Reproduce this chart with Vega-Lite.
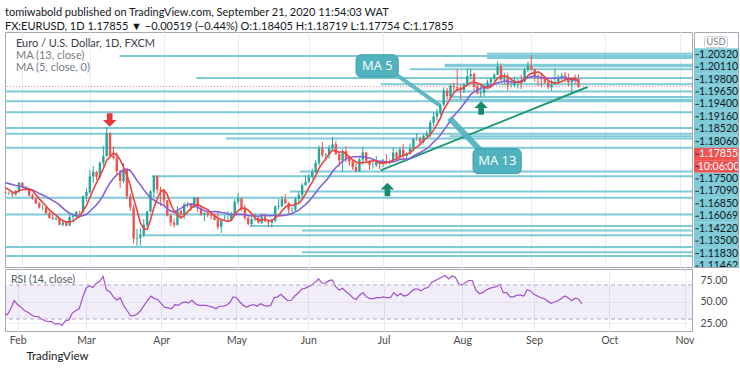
{
"$schema": "https://vega.github.io/schema/vega-lite/v6.json",
"padding": {"left": 4, "top": 6, "right": 5, "bottom": 0},
"background": "white",
"title": {"text": "tomiwabold published on TradingView.com, September 21, 2020 11:54:03 WAT", "subtitle": "FX:EURUSD, 1D  1.17855 ▼ −0.00519 (−0.44%)  O:1.18405  H:1.18719  L:1.17754  C:1.17855", "anchor": "start", "frame": "group", "font": "Lato", "subtitleFont": "Lato", "fontSize": 11, "subtitleFontSize": 11, "fontWeight": "normal", "color": "#131722", "subtitleColor": "#131722", "subtitlePadding": 3, "offset": 0},
"datasets": {
"bars": [
{"d":"2020-01-13","o":1.1120,"h":1.1143,"l":1.1113,"c":1.1135},
{"d":"2020-01-14","o":1.1135,"h":1.1147,"l":1.1118,"c":1.1128},
{"d":"2020-01-15","o":1.1128,"h":1.1154,"l":1.1120,"c":1.1150},
{"d":"2020-01-16","o":1.1150,"h":1.1170,"l":1.1128,"c":1.1136},
{"d":"2020-01-17","o":1.1136,"h":1.1140,"l":1.1086,"c":1.1092},
{"d":"2020-01-20","o":1.1092,"h":1.1102,"l":1.1084,"c":1.1095},
{"d":"2020-01-21","o":1.1095,"h":1.1113,"l":1.1076,"c":1.1085},
{"d":"2020-01-22","o":1.1085,"h":1.1100,"l":1.1077,"c":1.1093},
{"d":"2020-01-23","o":1.1093,"h":1.1096,"l":1.1036,"c":1.1055},
{"d":"2020-01-24","o":1.1055,"h":1.1066,"l":1.1020,"c":1.1025},
{"d":"2020-01-27","o":1.1025,"h":1.1033,"l":1.1010,"c":1.1020,"rsi":38},
{"d":"2020-01-28","o":1.1020,"h":1.1032,"l":1.1005,"c":1.1020,"rsi":37},
{"d":"2020-01-29","o":1.1020,"h":1.1022,"l":1.0991,"c":1.1008,"rsi":35},
{"d":"2020-01-30","o":1.1008,"h":1.1040,"l":1.1000,"c":1.1031,"rsi":42},
{"d":"2020-01-31","o":1.1031,"h":1.1096,"l":1.1020,"c":1.1093,"rsi":51.5},
{"d":"2020-02-03","o":1.1093,"h":1.1095,"l":1.1055,"c":1.1060,"rsi":47},
{"d":"2020-02-04","o":1.1060,"h":1.1068,"l":1.1036,"c":1.1045,"rsi":44},
{"d":"2020-02-05","o":1.1045,"h":1.1053,"l":1.0995,"c":1.1000,"rsi":40},
{"d":"2020-02-06","o":1.1000,"h":1.1015,"l":1.0970,"c":1.0980,"rsi":38},
{"d":"2020-02-07","o":1.0980,"h":1.0983,"l":1.0940,"c":1.0944,"rsi":35},
{"d":"2020-02-10","o":1.0944,"h":1.0955,"l":1.0906,"c":1.0914,"rsi":33},
{"d":"2020-02-11","o":1.0914,"h":1.0935,"l":1.0895,"c":1.0915,"rsi":33},
{"d":"2020-02-12","o":1.0915,"h":1.0922,"l":1.0867,"c":1.0873,"rsi":30},
{"d":"2020-02-13","o":1.0873,"h":1.0885,"l":1.0833,"c":1.0840,"rsi":28},
{"d":"2020-02-14","o":1.0840,"h":1.0863,"l":1.0827,"c":1.0830,"rsi":27},
{"d":"2020-02-17","o":1.0830,"h":1.0850,"l":1.0822,"c":1.0837,"rsi":27},
{"d":"2020-02-18","o":1.0837,"h":1.0840,"l":1.0787,"c":1.0790,"rsi":24},
{"d":"2020-02-19","o":1.0790,"h":1.0820,"l":1.0780,"c":1.0806,"rsi":25},
{"d":"2020-02-20","o":1.0806,"h":1.0813,"l":1.0778,"c":1.0784,"rsi":22.5},
{"d":"2020-02-21","o":1.0784,"h":1.0863,"l":1.0780,"c":1.0846,"rsi":28},
{"d":"2020-02-24","o":1.0846,"h":1.0870,"l":1.0810,"c":1.0852,"rsi":29},
{"d":"2020-02-25","o":1.0852,"h":1.0890,"l":1.0830,"c":1.0883,"rsi":37},
{"d":"2020-02-26","o":1.0883,"h":1.0891,"l":1.0855,"c":1.0882,"rsi":40},
{"d":"2020-02-27","o":1.0882,"h":1.1000,"l":1.0875,"c":1.0995,"rsi":42},
{"d":"2020-02-28","o":1.0995,"h":1.1053,"l":1.0955,"c":1.1026,"rsi":55},
{"d":"2020-03-02","o":1.1026,"h":1.1185,"l":1.1010,"c":1.1138,"rsi":66},
{"d":"2020-03-03","o":1.1138,"h":1.1213,"l":1.1090,"c":1.1172,"rsi":69},
{"d":"2020-03-04","o":1.1172,"h":1.1176,"l":1.1113,"c":1.1136,"rsi":67},
{"d":"2020-03-05","o":1.1136,"h":1.1245,"l":1.1120,"c":1.1236,"rsi":72},
{"d":"2020-03-06","o":1.1236,"h":1.1358,"l":1.1210,"c":1.1284,"rsi":74},
{"d":"2020-03-09","o":1.1284,"h":1.1495,"l":1.1280,"c":1.1450,"rsi":80},
{"d":"2020-03-10","o":1.1450,"h":1.1455,"l":1.1285,"c":1.1285,"rsi":64},
{"d":"2020-03-11","o":1.1285,"h":1.1355,"l":1.1260,"c":1.1270,"rsi":62},
{"d":"2020-03-12","o":1.1270,"h":1.1310,"l":1.1155,"c":1.1175,"rsi":56},
{"d":"2020-03-13","o":1.1175,"h":1.1185,"l":1.1055,"c":1.1105,"rsi":52},
{"d":"2020-03-16","o":1.1105,"h":1.1236,"l":1.1090,"c":1.1185,"rsi":55},
{"d":"2020-03-17","o":1.1185,"h":1.1200,"l":1.0975,"c":1.0995,"rsi":46},
{"d":"2020-03-18","o":1.0995,"h":1.1015,"l":1.0890,"c":1.0915,"rsi":40},
{"d":"2020-03-19","o":1.0915,"h":1.0935,"l":1.0655,"c":1.0690,"rsi":34},
{"d":"2020-03-20","o":1.0690,"h":1.0760,"l":1.0636,"c":1.0695,"rsi":34},
{"d":"2020-03-23","o":1.0695,"h":1.0765,"l":1.0640,"c":1.0720,"rsi":36},
{"d":"2020-03-24","o":1.0720,"h":1.0830,"l":1.0700,"c":1.0790,"rsi":40},
{"d":"2020-03-25","o":1.0790,"h":1.0890,"l":1.0770,"c":1.0885,"rsi":46},
{"d":"2020-03-26","o":1.0885,"h":1.1040,"l":1.0880,"c":1.1030,"rsi":52},
{"d":"2020-03-27","o":1.1030,"h":1.1147,"l":1.0990,"c":1.1140,"rsi":57},
{"d":"2020-03-30","o":1.1140,"h":1.1145,"l":1.1015,"c":1.1045,"rsi":54},
{"d":"2020-03-31","o":1.1045,"h":1.1065,"l":1.0925,"c":1.1030,"rsi":53},
{"d":"2020-04-01","o":1.1030,"h":1.1040,"l":1.0925,"c":1.0965,"rsi":48},
{"d":"2020-04-02","o":1.0965,"h":1.0970,"l":1.0850,"c":1.0855,"rsi":44},
{"d":"2020-04-03","o":1.0855,"h":1.0870,"l":1.0780,"c":1.0805,"rsi":43},
{"d":"2020-04-06","o":1.0805,"h":1.0835,"l":1.0770,"c":1.0790,"rsi":42},
{"d":"2020-04-07","o":1.0790,"h":1.0925,"l":1.0785,"c":1.0890,"rsi":47},
{"d":"2020-04-08","o":1.0890,"h":1.0895,"l":1.0830,"c":1.0860,"rsi":46},
{"d":"2020-04-09","o":1.0860,"h":1.0952,"l":1.0830,"c":1.0935,"rsi":49},
{"d":"2020-04-10","o":1.0935,"h":1.0955,"l":1.0915,"c":1.0940,"rsi":50},
{"d":"2020-04-13","o":1.0940,"h":1.0948,"l":1.0890,"c":1.0915,"rsi":49},
{"d":"2020-04-14","o":1.0915,"h":1.0990,"l":1.0910,"c":1.0985,"rsi":52},
{"d":"2020-04-15","o":1.0985,"h":1.0990,"l":1.0880,"c":1.0910,"rsi":48},
{"d":"2020-04-16","o":1.0910,"h":1.0925,"l":1.0855,"c":1.0865,"rsi":46},
{"d":"2020-04-17","o":1.0865,"h":1.0880,"l":1.0815,"c":1.0875,"rsi":46},
{"d":"2020-04-20","o":1.0875,"h":1.0890,"l":1.0845,"c":1.0860,"rsi":46},
{"d":"2020-04-21","o":1.0860,"h":1.0890,"l":1.0830,"c":1.0855,"rsi":45},
{"d":"2020-04-22","o":1.0855,"h":1.0870,"l":1.0820,"c":1.0825,"rsi":44},
{"d":"2020-04-23","o":1.0825,"h":1.0885,"l":1.0755,"c":1.0775,"rsi":42},
{"d":"2020-04-24","o":1.0775,"h":1.0830,"l":1.0730,"c":1.0820,"rsi":45},
{"d":"2020-04-27","o":1.0820,"h":1.0860,"l":1.0815,"c":1.0825,"rsi":45},
{"d":"2020-04-28","o":1.0825,"h":1.0890,"l":1.0810,"c":1.0825,"rsi":46},
{"d":"2020-04-29","o":1.0825,"h":1.0880,"l":1.0815,"c":1.0875,"rsi":49},
{"d":"2020-04-30","o":1.0875,"h":1.0975,"l":1.0855,"c":1.0955,"rsi":56},
{"d":"2020-05-01","o":1.0955,"h":1.1020,"l":1.0935,"c":1.0980,"rsi":55},
{"d":"2020-05-04","o":1.0980,"h":1.0985,"l":1.0890,"c":1.0905,"rsi":50},
{"d":"2020-05-05","o":1.0905,"h":1.0935,"l":1.0825,"c":1.0840,"rsi":46},
{"d":"2020-05-06","o":1.0840,"h":1.0850,"l":1.0785,"c":1.0795,"rsi":44},
{"d":"2020-05-07","o":1.0795,"h":1.0845,"l":1.0780,"c":1.0830,"rsi":46},
{"d":"2020-05-08","o":1.0830,"h":1.0875,"l":1.0815,"c":1.0840,"rsi":47},
{"d":"2020-05-11","o":1.0840,"h":1.0850,"l":1.0800,"c":1.0805,"rsi":45},
{"d":"2020-05-12","o":1.0805,"h":1.0875,"l":1.0795,"c":1.0850,"rsi":48},
{"d":"2020-05-13","o":1.0850,"h":1.0870,"l":1.0810,"c":1.0815,"rsi":46},
{"d":"2020-05-14","o":1.0815,"h":1.0820,"l":1.0775,"c":1.0805,"rsi":45},
{"d":"2020-05-15","o":1.0805,"h":1.0835,"l":1.0770,"c":1.0820,"rsi":46},
{"d":"2020-05-18","o":1.0820,"h":1.0930,"l":1.0805,"c":1.0920,"rsi":55},
{"d":"2020-05-19","o":1.0920,"h":1.0975,"l":1.0900,"c":1.0925,"rsi":56},
{"d":"2020-05-20","o":1.0925,"h":1.0995,"l":1.0915,"c":1.0975,"rsi":59},
{"d":"2020-05-21","o":1.0975,"h":1.1010,"l":1.0940,"c":1.0945,"rsi":55},
{"d":"2020-05-22","o":1.0945,"h":1.0955,"l":1.0870,"c":1.0900,"rsi":51.5},
{"d":"2020-05-25","o":1.0900,"h":1.0915,"l":1.0880,"c":1.0900,"rsi":52},
{"d":"2020-05-26","o":1.0900,"h":1.0990,"l":1.0885,"c":1.0975,"rsi":57},
{"d":"2020-05-27","o":1.0975,"h":1.1030,"l":1.0935,"c":1.1005,"rsi":60},
{"d":"2020-05-28","o":1.1005,"h":1.1090,"l":1.0975,"c":1.1075,"rsi":65},
{"d":"2020-05-29","o":1.1075,"h":1.1145,"l":1.1070,"c":1.1100,"rsi":66},
{"d":"2020-06-01","o":1.1100,"h":1.1155,"l":1.1090,"c":1.1135,"rsi":68},
{"d":"2020-06-02","o":1.1135,"h":1.1195,"l":1.1120,"c":1.1170,"rsi":70},
{"d":"2020-06-03","o":1.1170,"h":1.1255,"l":1.1165,"c":1.1235,"rsi":73},
{"d":"2020-06-04","o":1.1235,"h":1.1360,"l":1.1215,"c":1.1340,"rsi":77},
{"d":"2020-06-05","o":1.1340,"h":1.1385,"l":1.1275,"c":1.1290,"rsi":72},
{"d":"2020-06-08","o":1.1290,"h":1.1305,"l":1.1250,"c":1.1295,"rsi":72},
{"d":"2020-06-09","o":1.1295,"h":1.1365,"l":1.1265,"c":1.1340,"rsi":75},
{"d":"2020-06-10","o":1.1340,"h":1.1422,"l":1.1325,"c":1.1370,"rsi":76},
{"d":"2020-06-11","o":1.1370,"h":1.1395,"l":1.1290,"c":1.1300,"rsi":68},
{"d":"2020-06-12","o":1.1300,"h":1.1315,"l":1.1210,"c":1.1255,"rsi":64},
{"d":"2020-06-15","o":1.1255,"h":1.1335,"l":1.1170,"c":1.1320,"rsi":66},
{"d":"2020-06-16","o":1.1320,"h":1.1355,"l":1.1240,"c":1.1265,"rsi":62},
{"d":"2020-06-17","o":1.1265,"h":1.1285,"l":1.1215,"c":1.1245,"rsi":59},
{"d":"2020-06-18","o":1.1245,"h":1.1255,"l":1.1185,"c":1.1205,"rsi":55},
{"d":"2020-06-19","o":1.1205,"h":1.1230,"l":1.1170,"c":1.1175,"rsi":53},
{"d":"2020-06-22","o":1.1175,"h":1.1270,"l":1.1170,"c":1.1260,"rsi":58},
{"d":"2020-06-23","o":1.1260,"h":1.1350,"l":1.1225,"c":1.1310,"rsi":61},
{"d":"2020-06-24","o":1.1310,"h":1.1315,"l":1.1240,"c":1.1250,"rsi":56},
{"d":"2020-06-25","o":1.1250,"h":1.1255,"l":1.1185,"c":1.1220,"rsi":54},
{"d":"2020-06-26","o":1.1220,"h":1.1245,"l":1.1195,"c":1.1220,"rsi":54},
{"d":"2020-06-29","o":1.1220,"h":1.1285,"l":1.1205,"c":1.1245,"rsi":55},
{"d":"2020-06-30","o":1.1245,"h":1.1245,"l":1.1190,"c":1.1235,"rsi":55},
{"d":"2020-07-01","o":1.1235,"h":1.1265,"l":1.1205,"c":1.1250,"rsi":56},
{"d":"2020-07-02","o":1.1250,"h":1.1300,"l":1.1225,"c":1.1240,"rsi":55},
{"d":"2020-07-03","o":1.1240,"h":1.1260,"l":1.1225,"c":1.1245,"rsi":55},
{"d":"2020-07-06","o":1.1245,"h":1.1345,"l":1.1240,"c":1.1310,"rsi":61},
{"d":"2020-07-07","o":1.1310,"h":1.1320,"l":1.1255,"c":1.1275,"rsi":57},
{"d":"2020-07-08","o":1.1275,"h":1.1345,"l":1.1265,"c":1.1330,"rsi":60},
{"d":"2020-07-09","o":1.1330,"h":1.1370,"l":1.1270,"c":1.1285,"rsi":57},
{"d":"2020-07-10","o":1.1285,"h":1.1310,"l":1.1255,"c":1.1300,"rsi":58},
{"d":"2020-07-13","o":1.1300,"h":1.1375,"l":1.1295,"c":1.1340,"rsi":62},
{"d":"2020-07-14","o":1.1340,"h":1.1410,"l":1.1320,"c":1.1410,"rsi":65},
{"d":"2020-07-15","o":1.1410,"h":1.1450,"l":1.1395,"c":1.1410,"rsi":65},
{"d":"2020-07-16","o":1.1410,"h":1.1425,"l":1.1370,"c":1.1385,"rsi":63},
{"d":"2020-07-17","o":1.1385,"h":1.1440,"l":1.1375,"c":1.1430,"rsi":66},
{"d":"2020-07-20","o":1.1430,"h":1.1470,"l":1.1415,"c":1.1445,"rsi":67},
{"d":"2020-07-21","o":1.1445,"h":1.1545,"l":1.1420,"c":1.1525,"rsi":73},
{"d":"2020-07-22","o":1.1525,"h":1.1600,"l":1.1500,"c":1.1570,"rsi":75},
{"d":"2020-07-23","o":1.1570,"h":1.1625,"l":1.1540,"c":1.1595,"rsi":77},
{"d":"2020-07-24","o":1.1595,"h":1.1660,"l":1.1580,"c":1.1655,"rsi":79},
{"d":"2020-07-27","o":1.1655,"h":1.1780,"l":1.1645,"c":1.1755,"rsi":81},
{"d":"2020-07-28","o":1.1755,"h":1.1775,"l":1.1690,"c":1.1715,"rsi":77},
{"d":"2020-07-29","o":1.1715,"h":1.1805,"l":1.1700,"c":1.1790,"rsi":80.5},
{"d":"2020-07-30","o":1.1790,"h":1.1815,"l":1.1755,"c":1.1780,"rsi":79},
{"d":"2020-07-31","o":1.1780,"h":1.1909,"l":1.1760,"c":1.1775,"rsi":71},
{"d":"2020-08-03","o":1.1775,"h":1.1795,"l":1.1695,"c":1.1760,"rsi":70},
{"d":"2020-08-04","o":1.1760,"h":1.1810,"l":1.1740,"c":1.1800,"rsi":73},
{"d":"2020-08-05","o":1.1800,"h":1.1915,"l":1.1795,"c":1.1860,"rsi":75.5},
{"d":"2020-08-06","o":1.1860,"h":1.1915,"l":1.1835,"c":1.1875,"rsi":75},
{"d":"2020-08-07","o":1.1875,"h":1.1885,"l":1.1755,"c":1.1785,"rsi":64},
{"d":"2020-08-10","o":1.1785,"h":1.1805,"l":1.1730,"c":1.1735,"rsi":60},
{"d":"2020-08-11","o":1.1735,"h":1.1805,"l":1.1710,"c":1.1740,"rsi":61},
{"d":"2020-08-12","o":1.1740,"h":1.1800,"l":1.1715,"c":1.1785,"rsi":64},
{"d":"2020-08-13","o":1.1785,"h":1.1835,"l":1.1775,"c":1.1815,"rsi":66},
{"d":"2020-08-14","o":1.1815,"h":1.1850,"l":1.1790,"c":1.1840,"rsi":67},
{"d":"2020-08-17","o":1.1840,"h":1.1880,"l":1.1820,"c":1.1870,"rsi":68},
{"d":"2020-08-18","o":1.1870,"h":1.1966,"l":1.1865,"c":1.1930,"rsi":71},
{"d":"2020-08-19","o":1.1930,"h":1.1950,"l":1.1825,"c":1.1835,"rsi":61},
{"d":"2020-08-20","o":1.1835,"h":1.1885,"l":1.1800,"c":1.1840,"rsi":61},
{"d":"2020-08-21","o":1.1840,"h":1.1885,"l":1.1755,"c":1.1795,"rsi":56},
{"d":"2020-08-24","o":1.1795,"h":1.1840,"l":1.1780,"c":1.1795,"rsi":56},
{"d":"2020-08-25","o":1.1795,"h":1.1855,"l":1.1780,"c":1.1830,"rsi":58},
{"d":"2020-08-26","o":1.1830,"h":1.1840,"l":1.1770,"c":1.1830,"rsi":58},
{"d":"2020-08-27","o":1.1830,"h":1.1870,"l":1.1765,"c":1.1820,"rsi":57},
{"d":"2020-08-28","o":1.1820,"h":1.1920,"l":1.1815,"c":1.1905,"rsi":64.5},
{"d":"2020-08-31","o":1.1905,"h":1.1965,"l":1.1890,"c":1.1935,"rsi":63},
{"d":"2020-09-01","o":1.1935,"h":1.2011,"l":1.1900,"c":1.1910,"rsi":59},
{"d":"2020-09-02","o":1.1910,"h":1.1915,"l":1.1820,"c":1.1855,"rsi":57},
{"d":"2020-09-03","o":1.1855,"h":1.1870,"l":1.1790,"c":1.1850,"rsi":55},
{"d":"2020-09-04","o":1.1850,"h":1.1880,"l":1.1780,"c":1.1840,"rsi":54},
{"d":"2020-09-07","o":1.1840,"h":1.1845,"l":1.1805,"c":1.1815,"rsi":51},
{"d":"2020-09-08","o":1.1815,"h":1.1830,"l":1.1765,"c":1.1780,"rsi":48.5},
{"d":"2020-09-09","o":1.1780,"h":1.1830,"l":1.1755,"c":1.1800,"rsi":50},
{"d":"2020-09-10","o":1.1800,"h":1.1915,"l":1.1800,"c":1.1815,"rsi":51.5},
{"d":"2020-09-11","o":1.1815,"h":1.1870,"l":1.1810,"c":1.1845,"rsi":54},
{"d":"2020-09-14","o":1.1845,"h":1.1885,"l":1.1830,"c":1.1865,"rsi":57},
{"d":"2020-09-15","o":1.1865,"h":1.1890,"l":1.1820,"c":1.1845,"rsi":55},
{"d":"2020-09-16","o":1.1845,"h":1.1880,"l":1.1790,"c":1.1815,"rsi":51.5},
{"d":"2020-09-17","o":1.1815,"h":1.1840,"l":1.1737,"c":1.1845,"rsi":54.5},
{"d":"2020-09-18","o":1.1845,"h":1.1872,"l":1.1805,"c":1.1840,"rsi":53.5},
{"d":"2020-09-21","o":1.18405,"h":1.18719,"l":1.17754,"c":1.17855,"rsi":47.6}
],
"levels": [
{"p":1.2022,"s":153.8},{"p":1.2005,"s":44.8},{"p":1.1991,"s":153.8},{"p":1.1943,"s":141.3},{"p":1.1931,"s":141.3},{"p":1.1909,"s":131},{"p":1.1847,"s":67.6},{"p":1.1801,"s":122.3},{"p":1.1749,"s":10},{"p":1.1710,"s":142.7},{"p":1.1690,"s":142.7},{"p":1.1679,"s":10},{"p":1.1600,"s":10},{"p":1.1487,"s":10},{"p":1.1446,"s":10},{"p":1.1427,"s":142.7},{"p":1.1411,"s":76.4},{"p":1.1345,"s":10},{"p":1.1174,"s":98.3},{"p":1.1139,"s":54.4},{"p":1.1030,"s":95.4},{"p":1.0985,"s":10},{"p":1.0864,"s":10},{"p":1.0781,"s":83.4},{"p":1.0749,"s":98.9},{"p":1.0714,"s":51.5},{"p":1.0630,"s":10},{"p":1.0592,"s":98.9},{"p":1.0565,"s":10}
],
"ticks": [
{"t":"USD"},{"t":"1.20320"},{"t":"1.20110"},{"t":"1.19800"},{"t":"1.19650"},{"t":"1.19400"},{"t":"1.19160"},{"t":"1.18520"},{"t":"1.18060"},{"t":"1.17855"},{"t":"10:06:00"},{"t":"1.17500"},{"t":"1.17090"},{"t":"1.16850"},{"t":"1.16069"},{"t":"1.14220"},{"t":"1.13500"},{"t":"1.11830"},{"t":"1.11462"}
]
},
"spacing": 0,
"vconcat": [
{
"spacing": 0,
"hconcat": [
{
"width": 687, "height": 235,
"layer": [
{"data": {"name": "levels"},
 "mark": {"type": "rule", "stroke": "#7fcad7", "strokeWidth": 2, "clip": true},
 "encoding": {
  "x": {"field": "s", "type": "quantitative", "scale": {"domain": [12.316, 213.19], "nice": false, "zero": false}, "axis": {"values": [16,36,58,80,101,123,146,167,189,211], "labels": false, "ticks": false, "domain": false, "title": null, "grid": true, "gridColor": "#e6ecf4"}},
  "x2": {"datum": 220},
  "y": {"field": "p", "type": "quantitative", "scale": {"domain": [1.04859, 1.21779], "nice": false, "zero": false}, "axis": null}
 }},
{"data": {"values": [{}]},
 "mark": {"type": "rule", "stroke": "#f08a8a", "strokeDash": [1, 2], "strokeWidth": 1},
 "encoding": {"y": {"datum": 1.17855, "axis": null}}},
{"data": {"values": [{}]},
 "mark": {"type": "rule", "stroke": "#1f9a73", "strokeWidth": 2, "clip": true},
 "encoding": {"x": {"datum": 122.3}, "x2": {"datum": 183.7}, "y": {"datum": 1.1182, "axis": null}, "y2": {"datum": 1.1782}}},
{"data": {"name": "bars"},
 "transform": [
  {"window": [{"op": "row_number", "as": "i"}], "sort": [{"field": "d"}]},
  {"window": [{"op": "mean", "field": "c", "as": "ma5"}], "sort": [{"field": "d"}], "frame": [-4, 0]},
  {"window": [{"op": "mean", "field": "c", "as": "ma13"}], "sort": [{"field": "d"}], "frame": [-12, 0]}
 ],
 "layer": [
  {"mark": {"type": "rule", "strokeWidth": 1, "clip": true},
   "encoding": {"x": {"field": "i", "type": "quantitative"}, "y": {"field": "l", "type": "quantitative", "axis": null}, "y2": {"field": "h"},
    "color": {"condition": {"test": "datum.c >= datum.o", "value": "#26a69a"}, "value": "#ef5350"}}},
  {"mark": {"type": "bar", "size": 2.4, "orient": "vertical", "clip": true},
   "encoding": {"x": {"field": "i", "type": "quantitative"}, "y": {"field": "o", "type": "quantitative", "axis": null}, "y2": {"field": "c"},
    "color": {"condition": {"test": "datum.c >= datum.o", "value": "#26a69a"}, "value": "#ef5350"}}},
  {"mark": {"type": "line", "stroke": "#8460d6", "strokeWidth": 1.6, "clip": true},
   "encoding": {"x": {"field": "i", "type": "quantitative"}, "y": {"field": "ma13", "type": "quantitative", "axis": null}}},
  {"mark": {"type": "line", "stroke": "#f0413c", "strokeWidth": 1.6, "clip": true},
   "encoding": {"x": {"field": "i", "type": "quantitative"}, "y": {"field": "ma5", "type": "quantitative", "axis": null}}}
 ]},
{"data": {"values": [{}]},
 "mark": {"type": "rule", "stroke": "#4fb2be", "strokeWidth": 4, "opacity": 0.9},
 "encoding": {"x": {"datum": 126.6}, "x2": {"datum": 139.8}, "y": {"datum": 1.1876, "axis": null}, "y2": {"datum": 1.1649}}},
{"data": {"values": [{}]},
 "mark": {"type": "rule", "stroke": "#4fb2be", "strokeWidth": 6, "opacity": 0.9},
 "encoding": {"x": {"datum": 151.8}, "x2": {"datum": 142.7}, "y": {"datum": 1.1328, "axis": null}, "y2": {"datum": 1.1559}}},
{"data": {"values": [{}]},
 "mark": {"type": "rect", "fill": "#4fb2be", "stroke": "#3c9fab", "strokeWidth": 1, "cornerRadius": 5},
 "encoding": {"x": {"datum": 115.0}, "x2": {"datum": 127.5}, "y": {"datum": 1.2014, "axis": null}, "y2": {"datum": 1.1854}}},
{"data": {"values": [{}]},
 "mark": {"type": "rect", "fill": "#4fb2be", "stroke": "#3c9fab", "strokeWidth": 1, "cornerRadius": 5},
 "encoding": {"x": {"datum": 149.7}, "x2": {"datum": 164.0}, "y": {"datum": 1.1338, "axis": null}, "y2": {"datum": 1.1158}}},
{"data": {"values": [{}]},
 "mark": {"type": "text", "text": "MA 5", "color": "white", "fontSize": 13, "font": "Open Sans", "align": "center", "baseline": "middle"},
 "encoding": {"x": {"datum": 121.3}, "y": {"datum": 1.1935, "axis": null}}},
{"data": {"values": [{}]},
 "mark": {"type": "text", "text": "MA 13", "color": "white", "fontSize": 13, "font": "Open Sans", "align": "center", "baseline": "middle"},
 "encoding": {"x": {"datum": 156.9}, "y": {"datum": 1.1248, "axis": null}}},
{"data": {"values": [{}]},
 "mark": {"type": "point", "shape": "M-0.42,-1L0.42,-1L0.42,0L1,0L0,1L-1,0L-0.42,0Z", "filled": true, "size": 180, "color": "#e53935", "opacity": 1},
 "encoding": {"x": {"datum": 41.9}, "y": {"datum": 1.1544, "axis": null}}},
{"data": {"values": [{}]},
 "mark": {"type": "point", "shape": "M-0.42,1L0.42,1L0.42,0L1,0L0,-1L-1,0L-0.42,0Z", "filled": true, "size": 180, "color": "#16896f", "opacity": 1},
 "encoding": {"x": {"datum": 124.3}, "y": {"datum": 1.1044, "axis": null}}},
{"data": {"values": [{}]},
 "mark": {"type": "point", "shape": "M-0.42,1L0.42,1L0.42,0L1,0L0,-1L-1,0L-0.42,0Z", "filled": true, "size": 180, "color": "#16896f", "opacity": 1},
 "encoding": {"x": {"datum": 152.1}, "y": {"datum": 1.1631, "axis": null}}},
{"data": {"values": [{}]},
 "mark": {"type": "text", "text": "Euro / U.S. Dollar, 1D, FXCM", "color": "#3a3e49", "fontSize": 11, "font": "Lato", "align": "left", "baseline": "middle"},
 "encoding": {"x": {"datum": 14.07}, "y": {"datum": 1.2088, "axis": null}}},
{"data": {"values": [{}]},
 "mark": {"type": "text", "text": "MA (13, close)", "color": "#787b86", "fontSize": 11, "font": "Lato", "align": "left", "baseline": "middle"},
 "encoding": {"x": {"datum": 14.07}, "y": {"datum": 1.2002, "axis": null}}},
{"data": {"values": [{}]},
 "mark": {"type": "text", "text": "MA (5, close, 0)", "color": "#787b86", "fontSize": 11, "font": "Lato", "align": "left", "baseline": "middle"},
 "encoding": {"x": {"datum": 14.07}, "y": {"datum": 1.1919, "axis": null}}}
]
},
{
"width": 44, "height": 235,
"data": {"name": "ticks"},
"transform": [{"window": [{"op": "row_number", "as": "k"}]}],
"layer": [
{"transform": [{"filter": "datum.t !== 'USD'"}],
 "mark": {"type": "rect", "yOffset": -6.3, "y2Offset": 6.3, "clip": true},
 "encoding": {
  "x": {"datum": 0, "scale": {"domain": [0, 1], "nice": false, "zero": false}, "axis": null},
  "x2": {"datum": 1},
  "y": {"field": "k", "type": "quantitative", "scale": {"domain": [0.179, 19.08], "reverse": true, "nice": false, "zero": false}, "axis": null},
  "y2": {"field": "k"},
  "fill": {"condition": {"test": "datum.t === '1.17855' || datum.t === '10:06:00'", "value": "#f05350"}, "value": "#7fcbd8"}
 }},
{"transform": [{"filter": "datum.t !== 'USD'"}],
 "mark": {"type": "rule", "stroke": "#2a2e39", "strokeWidth": 1, "clip": true},
 "encoding": {"x": {"datum": 0.03, "axis": null}, "x2": {"datum": 0.11}, "y": {"field": "k", "type": "quantitative", "axis": null}}},
{"transform": [{"filter": "datum.t !== 'USD'"}],
 "mark": {"type": "text", "fontSize": 10.5, "font": "Lato", "align": "center", "baseline": "middle", "clip": true},
 "encoding": {"x": {"datum": 0.56, "axis": null}, "y": {"field": "k", "type": "quantitative", "axis": null}, "text": {"field": "t"},
  "color": {"condition": {"test": "datum.t === '1.17855' || datum.t === '10:06:00'", "value": "#ffffff"}, "value": "#131722"}}},
{"transform": [{"filter": "datum.t === 'USD'"}],
 "mark": {"type": "rect", "yOffset": -5.5, "y2Offset": 5.5, "fill": "white", "stroke": "#c8cad0", "cornerRadius": 2},
 "encoding": {"x": {"datum": 0.24, "axis": null}, "x2": {"datum": 0.76}, "y": {"field": "k", "type": "quantitative", "axis": null}, "y2": {"field": "k"}}},
{"transform": [{"filter": "datum.t === 'USD'"}],
 "mark": {"type": "text", "fontSize": 9.5, "font": "Lato", "color": "#787b86", "align": "center", "baseline": "middle"},
 "encoding": {"x": {"datum": 0.5, "axis": null}, "y": {"field": "k", "type": "quantitative", "axis": null}, "text": {"field": "t"}}}
]
}
]
},
{
"width": 687, "height": 62,
"layer": [
{"data": {"name": "bars"},
 "transform": [{"window": [{"op": "row_number", "as": "i"}], "sort": [{"field": "d"}]}],
 "mark": {"type": "line", "stroke": "#a44fd1", "strokeWidth": 1.2, "clip": true},
 "encoding": {
  "x": {"field": "i", "type": "quantitative", "scale": {"domain": [12.316, 213.19], "nice": false, "zero": false},
   "axis": {"values": [16,36,58,80,101,123,146,167,189,211], "labelExpr": "datum.value == 16 ? 'Feb' : datum.value == 36 ? 'Mar' : datum.value == 58 ? 'Apr' : datum.value == 80 ? 'May' : datum.value == 101 ? 'Jun' : datum.value == 123 ? 'Jul' : datum.value == 146 ? 'Aug' : datum.value == 167 ? 'Sep' : datum.value == 189 ? 'Oct' : 'Nov'",
    "grid": true, "gridColor": "#e6ecf4", "ticks": false, "domain": false, "labelFont": "Lato", "labelFontSize": 10.5, "labelColor": "#4a4a4a", "labelPadding": 4, "labelFlush": false,
    "title": "TradingView", "titleAnchor": "start", "titleAlign": "left", "titleX": 21, "titleFont": "Lato", "titleFontSize": 11.5, "titleFontWeight": "normal", "titleColor": "#131722", "titlePadding": 5}},
  "y": {"field": "rsi", "type": "quantitative", "scale": {"domain": [15.96, 88.7], "nice": false, "zero": false},
   "axis": {"orient": "right", "values": [25, 50, 75], "format": ".2f", "grid": true, "gridColor": "#eef0f4", "ticks": false, "domain": false, "title": null, "labelOverlap": false, "labelBound": false, "labelFont": "Lato", "labelFontSize": 10.5, "labelColor": "#4a4a4a", "labelPadding": 8}}
 }},
{"data": {"values": [{}]},
 "mark": {"type": "rect", "fill": "#7e57c2", "opacity": 0.1},
 "encoding": {"x": {"datum": 12.316}, "x2": {"datum": 213.19},
  "y": {"datum": 30, "axis": {"orient": "right", "values": [25, 50, 75], "format": ".2f", "grid": true, "gridColor": "#eef0f4", "ticks": false, "domain": false, "title": null, "labelOverlap": false, "labelBound": false, "labelFont": "Lato", "labelFontSize": 10.5, "labelColor": "#4a4a4a", "labelPadding": 8}},
  "y2": {"datum": 70}}},
{"data": {"values": [{}]},
 "mark": {"type": "rule", "stroke": "#b7a6d6", "strokeDash": [4, 3], "strokeWidth": 1},
 "encoding": {"y": {"datum": 70, "axis": {"orient": "right", "values": [25, 50, 75], "format": ".2f", "grid": true, "gridColor": "#eef0f4", "ticks": false, "domain": false, "title": null, "labelOverlap": false, "labelBound": false, "labelFont": "Lato", "labelFontSize": 10.5, "labelColor": "#4a4a4a", "labelPadding": 8}}}},
{"data": {"values": [{}]},
 "mark": {"type": "rule", "stroke": "#b7a6d6", "strokeDash": [4, 3], "strokeWidth": 1},
 "encoding": {"y": {"datum": 30, "axis": {"orient": "right", "values": [25, 50, 75], "format": ".2f", "grid": true, "gridColor": "#eef0f4", "ticks": false, "domain": false, "title": null, "labelOverlap": false, "labelBound": false, "labelFont": "Lato", "labelFontSize": 10.5, "labelColor": "#4a4a4a", "labelPadding": 8}}}},
{"data": {"values": [{}]},
 "mark": {"type": "text", "text": "RSI (14, close)", "color": "#555a66", "fontSize": 10.5, "font": "Lato", "align": "left", "baseline": "middle"},
 "encoding": {"x": {"datum": 14.07}, "y": {"datum": 75.8, "axis": {"orient": "right", "values": [25, 50, 75], "format": ".2f", "grid": true, "gridColor": "#eef0f4", "ticks": false, "domain": false, "title": null, "labelOverlap": false, "labelBound": false, "labelFont": "Lato", "labelFontSize": 10.5, "labelColor": "#4a4a4a", "labelPadding": 8}}}}
]
}
],
"config": {"view": {"stroke": "#a6a9b1"}, "font": "Lato", "axisY": {"labelOverlap": false}}
}
